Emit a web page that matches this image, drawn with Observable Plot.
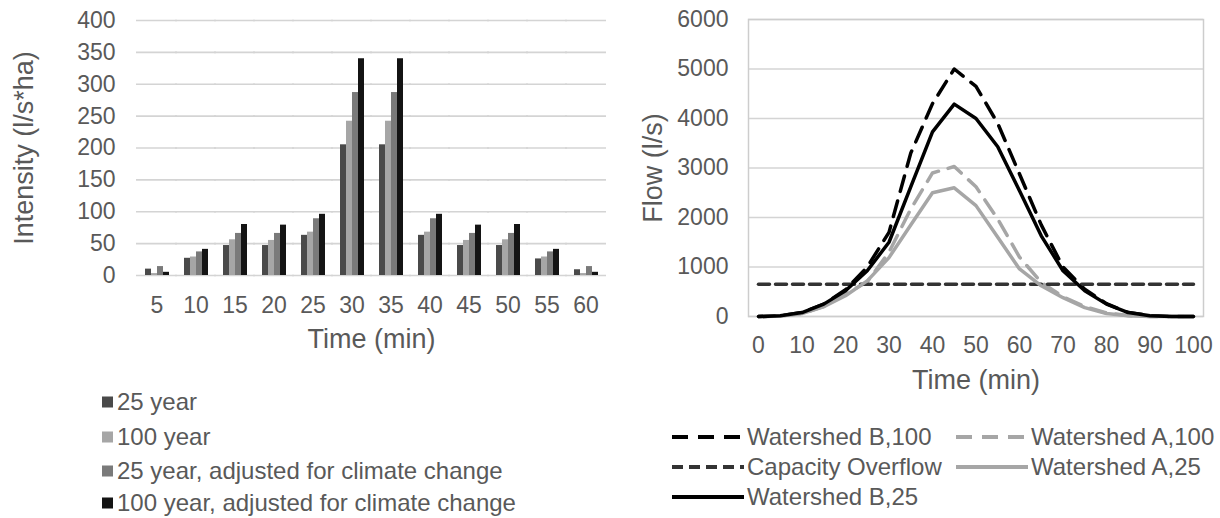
<!DOCTYPE html>
<html><head><meta charset="utf-8">
<script src="https://cdn.jsdelivr.net/npm/d3@7"></script>
<script src="https://cdn.jsdelivr.net/npm/@observablehq/plot@0.6"></script>
<style>
body{margin:0;background:#fff;}
#wrap{position:relative;width:1220px;height:518px;background:#fff;font-family:"Liberation Sans",Arial,sans-serif;color:#595959;overflow:hidden}
#left{position:absolute;left:0;top:0}
#right{position:absolute;left:620px;top:0}
.li{position:absolute;font-size:24px;line-height:24px;white-space:nowrap;transform:translateY(-50%)}
.sq{position:absolute;width:11px;height:11px;transform:translateY(-50%)}
.sw{position:absolute;transform:translateY(-50%)}
svg [aria-label$="axis label"]{font-size:27px}
</style></head><body>
<div id="wrap"><div id="left"></div><div id="right"></div><div id="legL"></div><div id="legR"></div></div>
<script>
// ---- Left chart data (intensity, l/s*ha) ----
const times = [5, 10, 15, 20, 25, 30, 35, 40, 45, 50, 55, 60];
const seriesNames = ["25 year", "100 year", "25 year, adjusted for climate change", "100 year, adjusted for climate change"];
const seriesColors = ["#4a4a4a", "#a6a6a6", "#7a7a7a", "#141414"];
const int25 = [10, 27, 47, 47, 63, 205, 205, 63, 47, 47, 26, 9];
const int100 = [3, 29, 56, 55, 68, 242, 242, 68, 55, 56, 29, 3];
const int25cc = [14, 37, 66, 66, 89, 287, 287, 89, 66, 66, 37, 14];
const int100cc = [5, 41, 80, 79, 96, 340, 340, 96, 79, 80, 41, 5];
const intensityTicks = [0, 50, 100, 150, 200, 250, 300, 350, 400];

// ---- Right chart data (flow, l/s) ----
const flowTimes = [0, 5, 10, 15, 20, 25, 30, 35, 40, 45, 50, 55, 60, 65, 70, 75, 80, 85, 90, 95, 100];
const flowB100 = [0, 15, 80, 250, 540, 1000, 1700, 3300, 4300, 5000, 4650, 3900, 2880, 1850, 1000, 550, 260, 80, 15, 0, 0];
const flowA100 = [0, 10, 60, 200, 450, 700, 1300, 2170, 2900, 3030, 2620, 1970, 1200, 690, 400, 200, 70, 20, 0, 0, 0];
const capTimes = [0, 100];
const capFlow = [650, 650];
const flowA25 = [0, 10, 60, 200, 420, 720, 1190, 1850, 2500, 2600, 2240, 1600, 960, 620, 380, 180, 60, 15, 0, 0, 0];
const flowB25 = [0, 15, 80, 250, 520, 925, 1500, 2620, 3730, 4290, 4000, 3430, 2540, 1630, 925, 520, 250, 80, 15, 0, 0];
const flowTimeTicks = [0, 10, 20, 30, 40, 50, 60, 70, 80, 90, 100];
const flowTicks = [0, 1000, 2000, 3000, 4000, 5000, 6000];
const lineNames = ["Watershed B,100", "Watershed A,100", "Capacity Overflow", "Watershed A,25", "Watershed B,25"];
const lineColors = ["#000000", "#a6a6a6", "#333333", "#a6a6a6", "#000000"];
const lineDash = ["16,10", "16,10", "11,6", null, null];
const lineWidths = [3.5, 3.5, 3.5, 3.5, 3.5];

const font = '"Liberation Sans", Arial, sans-serif';
const plain = d => String(d);

const seriesValues = [int25, int100, int25cc, int100cc];
const barData = [];
seriesNames.forEach((s, i) => times.forEach((t, j) => barData.push({time: t, series: s, value: seriesValues[i][j]})));

const left = Plot.plot({
  width: 620, height: 360,
  marginLeft: 132, marginRight: 10, marginTop: 20, marginBottom: 85,
  style: {fontFamily: font, fontSize: "23px", color: "#595959", background: "transparent"},
  fx: {domain: times, paddingInner: 0.35, paddingOuter: 0.175, axis: "bottom", tickSize: 0, tickPadding: 21, tickFormat: plain, label: "Time (min)", labelAnchor: "center", labelOffset: 72, labelArrow: false},
  x: {domain: seriesNames, axis: null, padding: 0},
  y: {domain: [0, 400], ticks: intensityTicks, tickSize: 0, tickPadding: 29, tickFormat: plain, label: "Intensity (l/s*ha)", labelAnchor: "center", labelOffset: 131, labelArrow: false},
  color: {domain: seriesNames, range: seriesColors},
  marks: [
    Plot.ruleY(intensityTicks, {stroke: "#d4d4d4", strokeWidth: 1.6, insetLeft: -8, insetRight: -8}),
    Plot.barY(barData, {fx: "time", x: "series", y: "value", fill: "series"})
  ]
});
document.getElementById("left").appendChild(left);

const seriesFlows = [flowB100, flowA100, null, flowA25, flowB25];
const lineMarks = lineNames.map((name, i) => {
  const xs = i === 2 ? capTimes : flowTimes;
  const ys = i === 2 ? capFlow : seriesFlows[i];
  const d = xs.map((t, j) => ({time: t, flow: ys[j]}));
  return Plot.line(d, {x: "time", y: "flow", stroke: lineColors[i], strokeWidth: lineWidths[i], strokeDasharray: lineDash[i] || undefined, strokeLinejoin: "round"});
});

const right = Plot.plot({
  width: 600, height: 400,
  marginLeft: 128, marginRight: 17, marginTop: 19, marginBottom: 84,
  style: {fontFamily: font, fontSize: "23px", color: "#595959", background: "transparent"},
  x: {domain: [0, 100], ticks: flowTimeTicks, inset: 10, tickSize: 0, tickPadding: 20, tickFormat: plain, label: "Time (min)", labelAnchor: "center", labelOffset: 72, labelArrow: false},
  y: {domain: [0, 6000], ticks: flowTicks, tickSize: 0, tickPadding: 20, tickFormat: plain, label: "Flow (l/s)", labelAnchor: "center", labelOffset: 106, labelArrow: false},
  marks: [
    Plot.ruleY(flowTicks, {stroke: "#d4d4d4", strokeWidth: 1.6}),
    Plot.frame({stroke: "#cdcdcd", strokeWidth: 1.5}),
    ...lineMarks
  ]
});
document.getElementById("right").appendChild(right);

// ---- Legends ----
const legL = document.getElementById("legL");
const rowsL = [402, 437, 471, 503];
seriesNames.forEach((s, i) => {
  const sq = document.createElement("div");
  sq.className = "sq"; sq.style.left = "102px"; sq.style.top = rowsL[i] + "px"; sq.style.background = seriesColors[i];
  legL.appendChild(sq);
  const t = document.createElement("div");
  t.className = "li"; t.style.left = "117px"; t.style.top = rowsL[i] + "px"; t.textContent = s;
  legL.appendChild(t);
});

const legR = document.getElementById("legR");
const posR = [[672, 437], [956, 437], [672, 467], [956, 467], [672, 497]];
lineNames.forEach((name, i) => {
  const [x, y] = posR[i];
  const svg = d3.create("svg").attr("class", "sw").attr("width", 72).attr("height", 8)
    .style("left", x + "px").style("top", y + "px");
  svg.append("line").attr("x1", 0).attr("x2", 72).attr("y1", 4).attr("y2", 4)
    .attr("stroke", lineColors[i]).attr("stroke-width", 4)
    .attr("stroke-dasharray", lineDash[i] || null);
  legR.appendChild(svg.node());
  const t = document.createElement("div");
  t.className = "li"; t.style.left = (x + 75) + "px"; t.style.top = y + "px"; t.textContent = name;
  legR.appendChild(t);
});
</script>
</body></html>
